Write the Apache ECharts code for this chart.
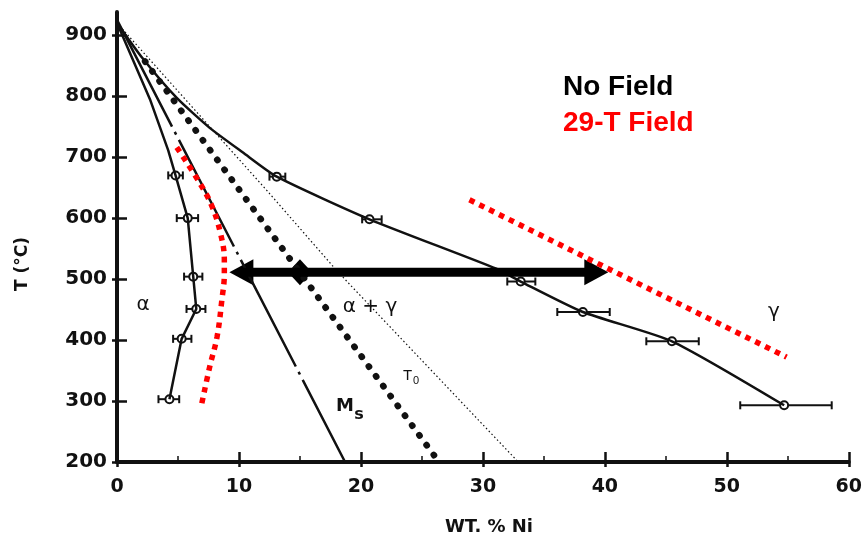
<!DOCTYPE html>
<html><head><meta charset="utf-8">
<script src="https://cdn.jsdelivr.net/npm/echarts@6/dist/echarts.min.js"></script>
<style>html,body{margin:0;padding:0;background:#fff}#c{width:865px;height:540px}</style>
</head><body><div id="c"></div>
<script>
// ---- data (WT.% Ni, T in °C) ----
const yTickValues = [200, 300, 400, 500, 600, 700, 800, 900];
const xTickValues = [0, 10, 20, 30, 40, 50, 60];

const gammaBoundary = [[0,920],[2.1,862],[4.9,797],[7.6,748],[10.3,708],[13.1,668],[20.7,598],[31.1,517],[33.1,496],[38.2,446],[45.5,398],[54.7,293]];
const alphaBoundary = [[0,920],[2.7,795],[4.2,711],[4.8,670],[5.8,600],[6.25,504],[6.5,451],[5.3,402],[4.3,303]];
const msLine = [[0,925],[18.7,200]];
const t0Line = [[0,920],[12.3,645],[18.1,512],[32.9,200]];
const fieldT0Line = [[2.3,857],[26.4,200]];
const redAlpha = [[4.9,716],[6.8,657],[7.75,621],[8.45,578],[8.8,531],[8.8,509],[8.6,466],[8.2,405],[7.6,356],[6.9,291]];
const redGamma = [[28.9,630],[54.9,372]];

const alphaX  = [4.8, 5.8, 6.25, 6.5, 5.3, 4.3];
const alphaT  = [670, 600, 504, 451, 402, 303];
const alphaLo = [4.2, 4.9, 5.5, 5.7, 4.6, 3.4];
const alphaHi = [5.4, 6.65, 7.0, 7.25, 6.1, 5.1];

const gammaX  = [13.1, 20.7, 33.1, 38.2, 45.5, 54.7];
const gammaT  = [668, 598, 496, 446, 398, 293];
const gammaLo = [12.5, 20.1, 32.0, 36.1, 43.4, 51.1];
const gammaHi = [13.8, 21.7, 34.3, 40.4, 47.7, 58.6];

const arrowEnds = [[10.2,511],[39.3,511]];
const diamondPt = [[15.0,511]];

// ---- build ----
const BLACK = '#111';
const pts = (xs, ts) => xs.map((x, i) => [x, ts[i]]);
const bars = (xs, ts, lo, hi) => xs.map((x, i) => [x, ts[i], lo[i], hi[i]]);

function errRender(params, api) {
  const y = api.value(1);
  const a = api.coord([api.value(2), y]);
  const b = api.coord([api.value(3), y]);
  const st = { stroke: BLACK, lineWidth: 2 };
  return { type: 'group', children: [
    { type: 'line', shape: { x1: a[0], y1: a[1], x2: b[0], y2: b[1] }, style: st },
    { type: 'line', shape: { x1: a[0], y1: a[1]-4, x2: a[0], y2: a[1]+4 }, style: st },
    { type: 'line', shape: { x1: b[0], y1: b[1]-4, x2: b[0], y2: b[1]+4 }, style: st }
  ]};
}

function lineSeries(data, style, extra) {
  return Object.assign({ type: 'line', data, showSymbol: false, symbol: 'none', silent: true,
    lineStyle: Object.assign({ color: BLACK, width: 2.5, opacity: 1 }, style) }, extra || {});
}

const FONT = '"DejaVu Sans", sans-serif';

const chart = echarts.init(document.getElementById('c'), null, { renderer: 'canvas' });
chart.setOption({
  animation: false,
  backgroundColor: '#fff',
  grid: { left: 117, right: 16, top: 12, bottom: 78, containLabel: false },
  xAxis: [
    { type: 'value', min: 0, max: 60, interval: 10, position: 'bottom',
      axisLine: { lineStyle: { color: BLACK, width: 4 } },
      axisTick: { inside: true, length: 10, lineStyle: { color: BLACK, width: 2.5 } },
      minorTick: { show: true, splitNumber: 2, length: 6, lineStyle: { color: BLACK, width: 1.5 } },
      axisLabel: { margin: 16, fontSize: 19, fontWeight: 'bold', fontFamily: FONT, color: BLACK,
        customValues: xTickValues },
      splitLine: { show: false } },
    { type: 'value', min: 0, max: 60, interval: 10, position: 'bottom', gridIndex: 0,
      axisLine: { show: false },
      axisTick: { inside: false, length: 5, lineStyle: { color: BLACK, width: 2.5 } },
      axisLabel: { show: false }, splitLine: { show: false } }
  ],
  yAxis: [
    { type: 'value', min: 200, max: 938, interval: 100, position: 'left',
      axisLine: { lineStyle: { color: BLACK, width: 4 } },
      axisTick: { inside: true, length: 10, lineStyle: { color: BLACK, width: 2.5 }, customValues: yTickValues },
      axisLabel: { margin: 10, fontSize: 20, fontWeight: 'bold', fontFamily: FONT, color: BLACK,
        customValues: yTickValues },
      splitLine: { show: false } },
    { type: 'value', min: 200, max: 938, interval: 100, position: 'left', gridIndex: 0,
      axisLine: { show: false },
      axisTick: { inside: false, length: 5, lineStyle: { color: BLACK, width: 2.5 }, customValues: yTickValues },
      axisLabel: { show: false }, splitLine: { show: false } }
  ],
  series: [
    lineSeries(t0Line, { width: 1.2, type: [1.5, 2.5] }),
    lineSeries(fieldT0Line, { width: 6.5, type: [0.5, 11.7], cap: 'round' }),
    lineSeries(msLine, { width: 2.5, type: [120, 6, 3, 6] }),
    lineSeries(gammaBoundary, { width: 2.5 }, { smooth: 0.2 }),
    lineSeries(alphaBoundary, { width: 2.5 }),
    { type: 'custom', renderItem: errRender, data: bars(alphaX, alphaT, alphaLo, alphaHi),
      encode: { x: 0, y: 1 }, silent: true },
    { type: 'custom', renderItem: errRender, data: bars(gammaX, gammaT, gammaLo, gammaHi),
      encode: { x: 0, y: 1 }, silent: true },
    { type: 'scatter', data: pts(alphaX, alphaT).concat(pts(gammaX, gammaT)), symbol: 'circle', symbolSize: 8,
      itemStyle: { color: '#fff', borderColor: BLACK, borderWidth: 2, opacity: 1 }, silent: true },
    lineSeries(redAlpha, { color: '#ff0000', width: 5.5, type: [5.5, 5.5], cap: 'butt' }, { smooth: 0.4 }),
    lineSeries(redGamma, { color: '#ff0000', width: 5.5, type: [5.5, 5.5], cap: 'butt' }),
    lineSeries(arrowEnds, { color: '#000', width: 9 }),
    { type: 'scatter', data: arrowEnds, symbol: 'triangle', symbolSize: [26, 24],
      symbolRotate: (v, p) => (p.dataIndex === 0 ? 90 : -90),
      itemStyle: { color: '#000', opacity: 1 }, silent: true },
    { type: 'scatter', data: diamondPt, symbol: 'diamond', symbolSize: [24, 26],
      itemStyle: { color: '#000', opacity: 1 }, silent: true }
  ],
  graphic: [
    { type: 'text', x: 23, y: 264, rotation: Math.PI / 2,
      style: { text: 'T (°C)', x: 0, y: 0, align: 'center', verticalAlign: 'middle',
        font: 'bold 17px ' + FONT, fill: BLACK } },
    { type: 'text', style: { text: 'WT. % Ni', x: 489, y: 527, align: 'center', verticalAlign: 'middle',
        font: 'bold 18px ' + FONT, fill: BLACK } },
    { type: 'text', style: { text: 'No Field', x: 563, y: 87, align: 'left', verticalAlign: 'middle',
        font: 'bold 28px "Liberation Sans", Arial, sans-serif', fill: '#000' } },
    { type: 'text', style: { text: '29-T Field', x: 563, y: 123, align: 'left', verticalAlign: 'middle',
        font: 'bold 28px "Liberation Sans", Arial, sans-serif', fill: '#ff0000' } },
    { type: 'text', style: { text: 'α', x: 143, y: 305, align: 'center', verticalAlign: 'middle',
        font: '20px ' + FONT, fill: BLACK } },
    { type: 'text', style: { text: 'α + γ', x: 370, y: 307, align: 'center', verticalAlign: 'middle',
        font: '20px ' + FONT, fill: BLACK } },
    { type: 'text', style: { text: 'γ', x: 774, y: 312, align: 'center', verticalAlign: 'middle',
        font: '20px ' + FONT, fill: BLACK } },
    { type: 'text', style: { text: 'M', x: 345, y: 406, align: 'center', verticalAlign: 'middle',
        font: 'bold 18px ' + FONT, fill: BLACK } },
    { type: 'text', style: { text: 's', x: 359, y: 415, align: 'center', verticalAlign: 'middle',
        font: 'bold 16px ' + FONT, fill: BLACK } },
    { type: 'text', style: { text: 'T', x: 407.5, y: 376, align: 'center', verticalAlign: 'middle',
        font: '15px "Liberation Sans", Arial, sans-serif', fill: BLACK } },
    { type: 'text', style: { text: '0', x: 416, y: 381, align: 'center', verticalAlign: 'middle',
        font: '11px "Liberation Sans", Arial, sans-serif', fill: BLACK } }
  ]
});
</script></body></html>
